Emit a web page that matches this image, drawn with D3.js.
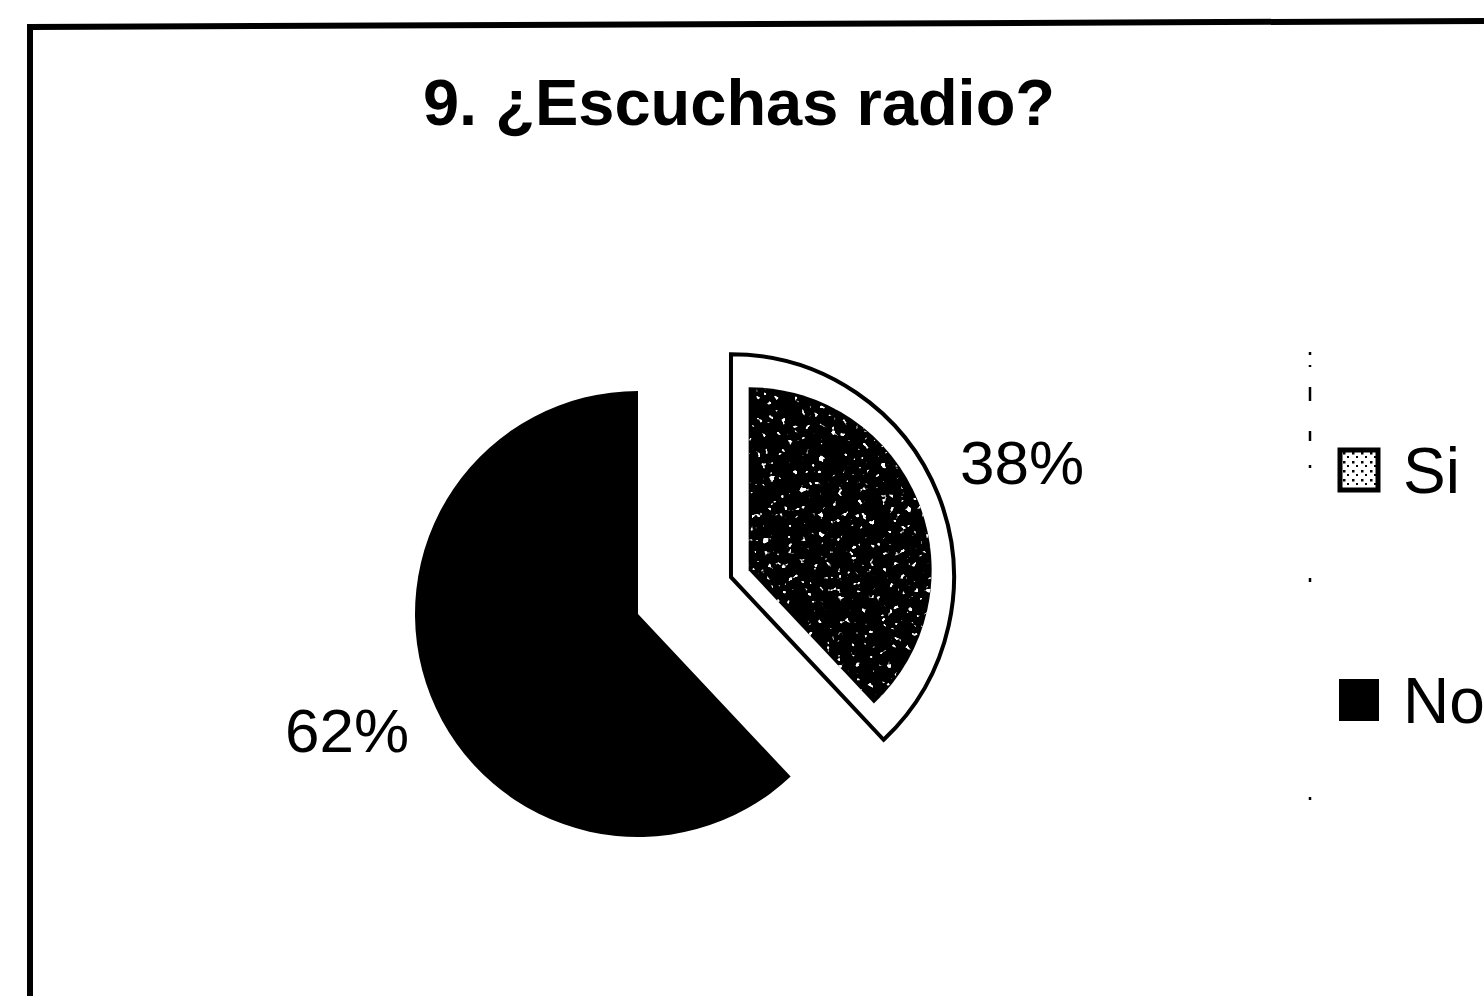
<!DOCTYPE html>
<html>
<head>
<meta charset="utf-8">
<script src="https://cdn.jsdelivr.net/npm/d3@7"></script>
<style>
  html, body { margin: 0; padding: 0; background: #fff; }
  svg { display: block; }
  text { font-family: "Liberation Sans", Arial, sans-serif; fill: #000; }
</style>
</head>
<body>
<svg id="chart" width="1484" height="996"></svg>
<script>
// Survey answers
const title = "9. ¿Escuchas radio?";
const categories = ["Si", "No"];
const values = [38, 62];
const percentLabels = ["38%", "62%"];

const svg = d3.select("#chart");
const W = 1484, H = 996;

const defs = svg.append("defs");

// white speckle texture used inside the "Si" wedge
const speck = defs.append("filter").attr("id", "speck")
  .attr("x", 0).attr("y", 0).attr("width", 1).attr("height", 1)
  .attr("filterUnits", "objectBoundingBox");
speck.append("feTurbulence").attr("type", "fractalNoise")
  .attr("baseFrequency", 0.16).attr("numOctaves", 2).attr("seed", 7).attr("result", "n");
speck.append("feColorMatrix").attr("in", "n").attr("type", "matrix")
  .attr("values", "0 0 0 0 1  0 0 0 0 1  0 0 0 0 1  16 0 0 0 -10.8");

// dotted pattern for the "Si" legend swatch
const dots = defs.append("pattern").attr("id", "dots")
  .attr("patternUnits", "userSpaceOnUse").attr("width", 9).attr("height", 9);
dots.append("rect").attr("width", 9).attr("height", 9).attr("fill", "#fff");
dots.append("rect").attr("x", 2).attr("y", 2).attr("width", 2.5).attr("height", 2.5).attr("fill", "#000");
dots.append("rect").attr("x", 6).attr("y", 6).attr("width", 2).attr("height", 2).attr("fill", "#000");

// chart frame (left and top edges)
svg.append("path")
  .attr("d", d3.line()([[30, H], [30, 27], [W, 21]]))
  .attr("fill", "none").attr("stroke", "#000").attr("stroke-width", 6);

// title
svg.append("text")
  .attr("x", 739).attr("y", 125)
  .attr("text-anchor", "middle")
  .attr("font-size", 65).attr("font-weight", "bold")
  .text(title);

// pie
const cx = 638, cy = 614, R = 223, explode = 100, labelR = 313;
const pie = d3.pie().sort(null).value(d => d.v);
const arcs = pie(categories.map((c, i) => ({ c, v: values[i], l: percentLabels[i] })));
const arc = d3.arc().innerRadius(0).outerRadius(R);

const g = svg.append("g").attr("transform", `translate(${cx},${cy})`);

arcs.forEach((a, i) => {
  const mid = (a.startAngle + a.endAngle) / 2;
  const dx = Math.sin(mid), dy = -Math.cos(mid);
  const off = a.data.c === "Si" ? explode : 0;
  const sg = g.append("g").attr("transform", `translate(${dx * off},${dy * off})`);

  if (a.data.c === "Si") {
    // outlined wedge with an inset textured fill
    sg.append("path").attr("d", arc(a))
      .attr("fill", "#fff").attr("stroke", "#000").attr("stroke-width", 4);
    const inset = 19;
    const innerArc = d3.arc().innerRadius(0).outerRadius(R - 2 * inset - 2);
    const ig = sg.append("g").attr("transform", `translate(${dx * inset},${dy * inset})`);
    const clipId = "clip-si";
    defs.append("clipPath").attr("id", clipId)
      .append("path").attr("d", innerArc(a))
      .attr("transform", `translate(${cx + dx * (off + inset)},${cy + dy * (off + inset)})`);
    ig.append("path").attr("d", innerArc(a)).attr("fill", "#000");
    svg.append("rect")
      .attr("x", cx - R).attr("y", cy - R - explode).attr("width", 2 * R + explode * 2).attr("height", 2 * R + explode)
      .attr("filter", "url(#speck)")
      .attr("clip-path", `url(#${clipId})`);
  } else {
    sg.append("path").attr("d", arc(a)).attr("fill", "#000");
  }

  // percentage label
  svg.append("text")
    .attr("x", cx + dx * (off + labelR))
    .attr("y", cy + dy * (off + labelR))
    .attr("dy", "0.36em")
    .attr("text-anchor", "middle")
    .attr("font-size", 62)
    .text(a.data.l);
});

// legend
const legendX = 1338;
const legendY = d3.scalePoint().domain(categories).range([470, 700]);

svg.append("line")
  .attr("x1", 1310).attr("x2", 1310).attr("y1", 352).attr("y2", 825)
  .attr("stroke", "#000").attr("stroke-width", 2.5)
  .attr("stroke-dasharray", "3 10 2 20 14 30 10 24 3 110 4 215 3 200");

categories.forEach((c, i) => {
  const y = legendY(c);
  svg.append("rect")
    .attr("x", legendX + 2).attr("y", y - 20)
    .attr("width", 38).attr("height", 40)
    .attr("fill", c === "Si" ? "url(#dots)" : "#000")
    .attr("stroke", "#000").attr("stroke-width", c === "Si" ? 5 : 2);
  svg.append("text")
    .attr("x", 1403).attr("y", y)
    .attr("dy", "0.36em")
    .attr("font-size", 64)
    .text(c);
});
</script>
</body>
</html>
